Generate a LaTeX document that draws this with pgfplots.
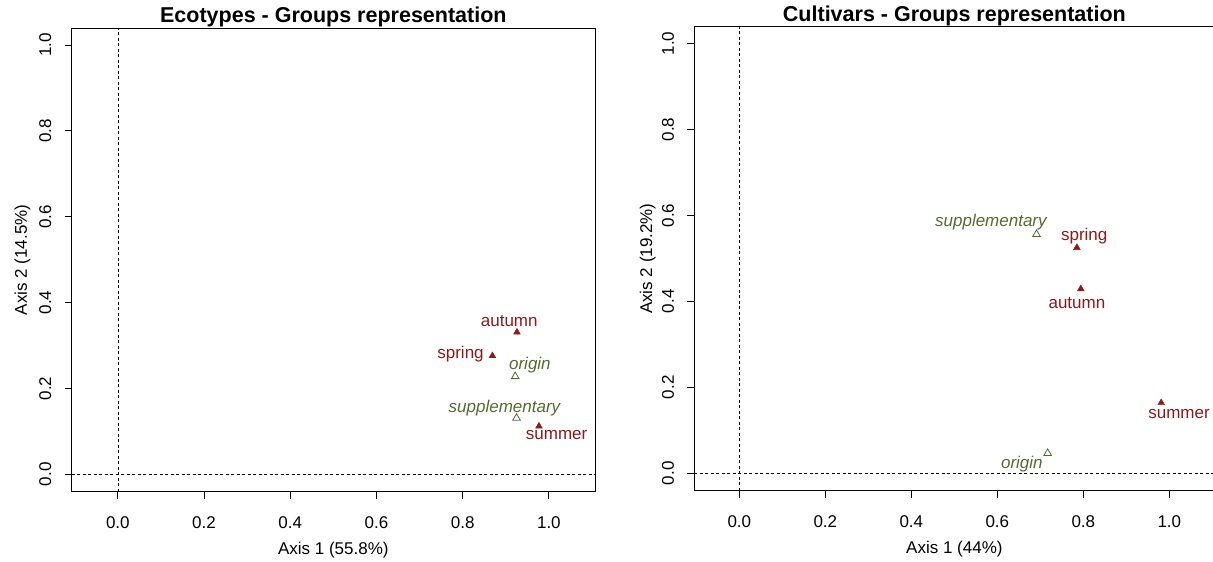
\documentclass[border=0pt]{standalone}
\usepackage{pgfplots}
\pgfplotsset{compat=1.18}
\usepackage{fontspec}
\setmainfont{Liberation Sans}
\definecolor{dred}{HTML}{8B1A1A}
\definecolor{dgreen}{HTML}{556B2F}
\newcommand{\fs}{\fontsize{17}{20}\selectfont}
\tikzset{lab/.style={anchor=base, inner sep=0pt, font=\fs}}
\pgfplotsset{
  ca/.style={
    scale only axis,
    anchor=south west,
    axis line style={line width=0.8pt, black},
    tick style={line width=0.8pt, black},
    tick align=outside,
    major tick length=7pt,
    xtick pos=bottom, ytick pos=left,
    xtick={0,0.2,0.4,0.6,0.8,1.0},
    ytick={0,0.2,0.4,0.6,0.8,1.0},
    /pgf/number format/fixed,
    /pgf/number format/fixed zerofill,
    /pgf/number format/precision=1,
    /pgf/number format/assume math mode=true,
    xticklabel style={anchor=base, inner sep=0pt, font=\fs, yshift=-29.5pt},
    yticklabel style={xshift=-13.5pt, rotate=90, anchor=base, inner sep=0pt, font=\fs},
    every axis x label/.style={at={(axis description cs:0.5,0)}, yshift=-63.3pt, anchor=base, inner sep=0pt, font=\fs},
    every axis title/.style={at={(axis description cs:0.5,1)}, yshift=5.3pt, anchor=base, inner sep=0pt, font=\fontsize{21.5}{24}\selectfont\bfseries},
    ymin=-0.0405, ymax=1.039,
  },
}
\begin{document}
\begin{tikzpicture}
\path[use as bounding box] (0pt,0pt) rectangle (1213pt,562pt);
% ---------------- left panel
\begin{axis}[ca,
  at={(71.7pt,70.3pt)}, width=523.3pt, height=463.4pt,
  xmin=-0.107, xmax=1.107,
  title={Ecotypes - Groups representation},
  xlabel={Axis 1 (55.8\%)},
  every axis y label/.style={at={(axis description cs:0,0.5)}, xshift=-44.7pt, rotate=90, anchor=base, inner sep=0pt, font=\fs},
  ylabel={Axis 2 (14.5\%)},
]
\addplot[black, line width=0.6pt, dash pattern=on 3pt off 2.5pt] coordinates {(0,-0.0405) (0,1.039)};
\addplot[black, line width=0.6pt, dash pattern=on 3pt off 2.5pt] coordinates {(-0.107,0) (1.107,0)};
\addplot[only marks, mark=triangle*, mark size=3.9pt, dred, mark options={line width=0.4pt}] coordinates {
  (0.926,0.331) (0.869,0.276) (0.977,0.112)};
\addplot[only marks, mark=triangle, mark size=4.4pt, dgreen, mark options={line width=0.8pt}] coordinates {
  (0.922,0.228) (0.925,0.131)};
\node[lab, text=dred] at (axis cs:0.908,0.344) {autumn};
\node[lab, text=dred] at (axis cs:0.795,0.270) {spring};
\node[lab, text=dred] at (axis cs:1.018,0.080) {summer};
\node[lab, text=dgreen] at (axis cs:0.956,0.243) {\itshape origin};
\node[lab, text=dgreen] at (axis cs:0.897,0.1435) {\itshape supplementary};
\end{axis}
% ---------------- right panel
\begin{axis}[ca,
  at={(694.3pt,71.3pt)}, width=520.2pt, height=464pt,
  xmin=-0.1047, xmax=1.105,
  title={Cultivars - Groups representation},
  xlabel={Axis 1 (44\%)},
  every axis y label/.style={at={(axis description cs:0,0.5)}, xshift=-42.3pt, rotate=90, anchor=base, inner sep=0pt, font=\fs},
  ylabel={Axis 2 (19.2\%)},
]
\addplot[black, line width=0.6pt, dash pattern=on 3pt off 2.5pt] coordinates {(0,-0.0405) (0,1.039)};
\addplot[black, line width=0.6pt, dash pattern=on 3pt off 2.5pt] coordinates {(-0.1047,0) (1.105,0)};
\addplot[only marks, mark=triangle*, mark size=3.9pt, dred, mark options={line width=0.4pt}] coordinates {
  (0.785,0.525) (0.794,0.429) (0.981,0.164)};
\addplot[only marks, mark=triangle, mark size=4.4pt, dgreen, mark options={line width=0.8pt}] coordinates {
  (0.691,0.556) (0.717,0.0466)};
\node[lab, text=dgreen] at (axis cs:0.585,0.574) {\itshape supplementary};
\node[lab, text=dred] at (axis cs:0.802,0.542) {spring};
\node[lab, text=dred] at (axis cs:0.785,0.384) {autumn};
\node[lab, text=dred] at (axis cs:1.0226,0.1265) {summer};
\node[lab, text=dgreen] at (axis cs:0.657,0.0116) {\itshape origin};
\end{axis}
\end{tikzpicture}
\end{document}
